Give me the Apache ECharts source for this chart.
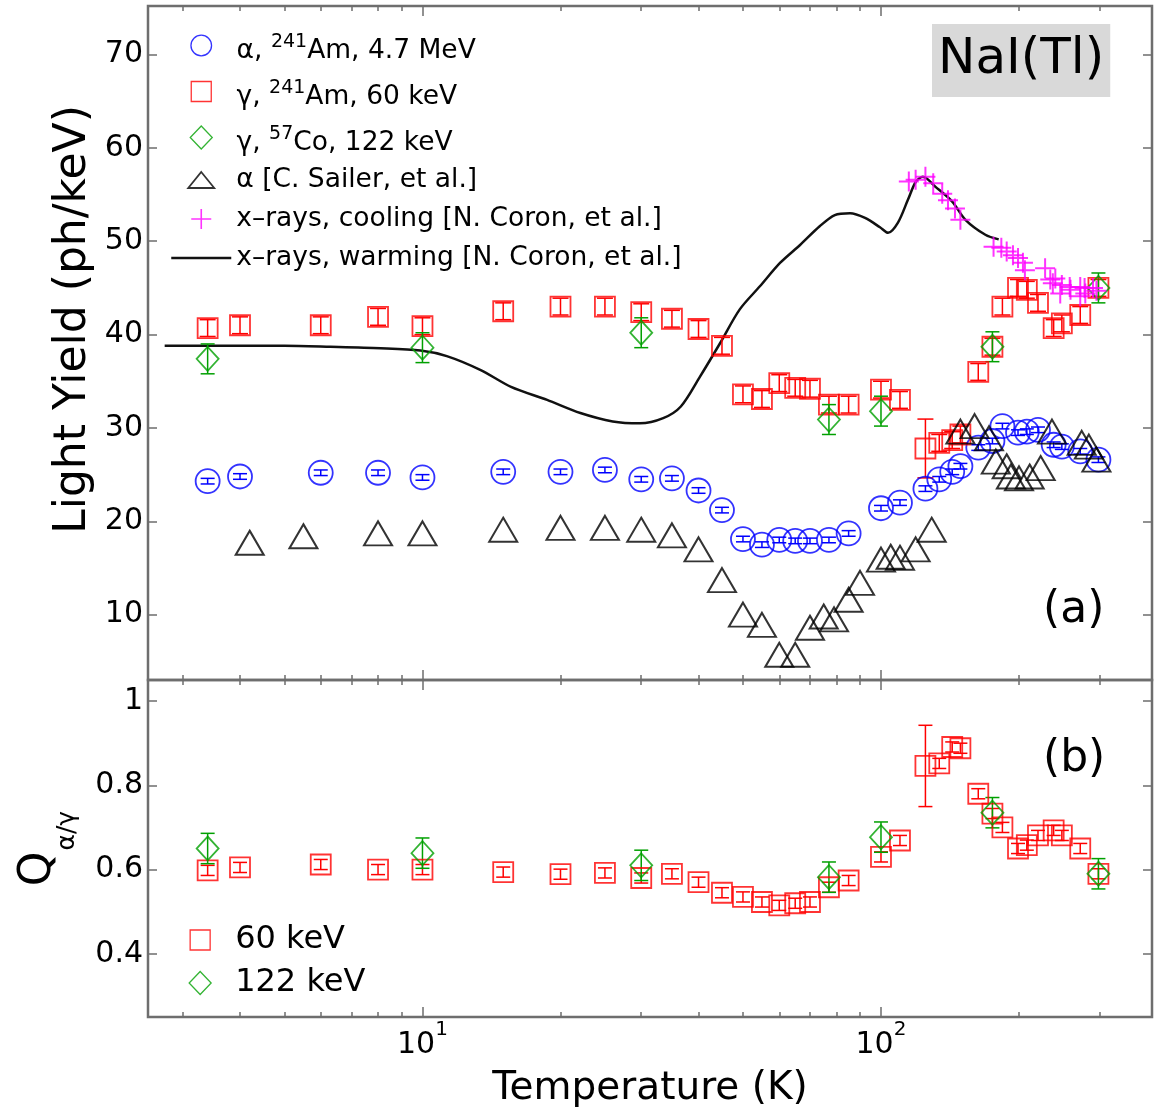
<!DOCTYPE html>
<html>
<head>
<meta charset="utf-8">
<script src="https://cdn.jsdelivr.net/npm/echarts@6/dist/echarts.min.js"></script>
<style>
  html, body { margin: 0; padding: 0; background: #ffffff; }
  #chart { width: 1160px; height: 1117px; }
</style>
</head>
<body>
<div id="chart"></div>
<script>
// ---- measured data -------------------------------------------------------
// Temperatures (K) of the 241Am alpha / 60 keV gamma runs
const tempAm = [3.4, 4, 6, 8, 10, 15, 20, 25, 30, 35, 40, 45, 50, 55, 60, 65, 70, 77, 85, 100,
                110, 125, 134, 143, 149, 163, 175, 184, 199, 208, 220, 238, 248, 272, 298];
// Light yield (ph/keV), alpha 4.7 MeV
const lyAlphaAm = [24.3, 24.8, 25.2, 25.2, 24.7, 25.3, 25.3, 25.5, 24.5, 24.6, 23.3, 21.2, 18.1, 17.5, 18.0,
                   17.9, 17.9, 18.0, 18.7, 21.4, 22.0, 23.5, 24.5, 25.3, 25.9, 27.9, 28.6, 30.2, 29.5, 29.6,
                   29.8, 28.2, 28.0, 27.5, 26.6];
const errAlphaAm = [0.3, 0.3, 0.3, 0.3, 0.3, 0.3, 0.3, 0.3, 0.3, 0.3, 0.3, 0.3, 0.3, 0.3, 0.3, 0.3, 0.3, 0.3,
                    0.3, 0.3, 0.3, 0.3, 0.3, 0.3, 0.3, 0.3, 0.3, 0.3, 0.3, 0.3, 0.3, 0.3, 0.3, 0.3, 0.3];
// Light yield (ph/keV), gamma 60 keV
const lyGamma60 = [40.7, 41.0, 41.0, 41.9, 40.9, 42.5, 43.0, 43.0, 42.4, 41.7, 40.6, 38.8, 33.6, 33.1, 34.8,
                   34.3, 34.2, 32.5, 32.5, 34.1, 33.0, 27.8, 28.4, 28.7, 29.3, 36.0, 38.7, 43.0, 45.0, 44.8,
                   43.4, 40.7, 41.2, 42.1, 45.0];
const errGamma60 = [0.9, 0.9, 0.9, 0.9, 0.9, 0.9, 0.9, 0.9, 0.9, 0.9, 0.9, 0.9, 0.9, 0.9, 0.9, 0.9, 0.9, 0.9,
                    0.9, 0.9, 0.9, 3.15, 0.9, 0.9, 0.9, 0.9, 0.9, 0.9, 0.9, 0.9, 0.9, 0.9, 0.9, 0.9, 0.9];
// Quenching factor alpha / 60 keV gamma
const qGamma60 = [0.598, 0.605, 0.612, 0.600, 0.600, 0.594, 0.589, 0.592, 0.580, 0.590, 0.570, 0.545, 0.535,
                  0.523, 0.515, 0.520, 0.523, 0.558, 0.574, 0.630, 0.669, 0.846, 0.852, 0.891, 0.888, 0.780,
                  0.733, 0.700, 0.650, 0.658, 0.681, 0.693, 0.681, 0.650, 0.590];
const errQ60 = [0.012, 0.012, 0.012, 0.012, 0.012, 0.012, 0.012, 0.012, 0.012, 0.012, 0.012, 0.012, 0.012,
                0.012, 0.012, 0.012, 0.012, 0.012, 0.012, 0.012, 0.012, 0.0965, 0.012, 0.012, 0.012, 0.012,
                0.012, 0.012, 0.012, 0.012, 0.012, 0.012, 0.012, 0.012, 0.012];

// 57Co, 122 keV gamma
const temp122 = [3.4, 10, 30, 77, 100, 175, 298];
const ly122 = [37.4, 38.6, 40.2, 30.9, 31.8, 38.7, 45.0];
const err122 = [1.6, 1.6, 1.6, 1.6, 1.6, 1.6, 1.6];
const q122 = [0.650, 0.639, 0.610, 0.582, 0.677, 0.735, 0.590];
const errQ122 = [0.036, 0.036, 0.036, 0.036, 0.036, 0.036, 0.036];

// alpha light yield, C. Sailer et al.
const tempSailer = [4.2, 5.5, 8, 10, 15, 20, 25, 30, 35, 40, 45, 50, 55, 60, 65, 70, 75, 79, 85, 90,
                    100, 105, 110, 119, 129, 149, 160, 172, 178, 188, 192, 200, 211, 223, 236, 274, 284, 295];
const lySailer = [17.7, 18.4, 18.7, 18.7, 19.1, 19.3, 19.3, 19.1, 18.5, 17.0, 13.7, 10.0, 8.9, 5.7, 5.7,
                  8.6, 9.8, 9.5, 11.6, 13.4, 15.9, 16.2, 16.1, 17.0, 19.1, 29.6, 30.2, 28.9, 26.4, 25.9,
                  24.8, 24.6, 24.8, 25.7, 29.6, 28.4, 28.0, 26.6];

// x-ray light yield while cooling, N. Coron et al.
const tempCool = [115, 119, 125, 130, 136, 140, 145, 149, 176, 183, 188, 194, 199, 204, 206, 228, 234, 237,
                  240, 246, 248, 258, 259, 272, 272, 278, 279, 290, 295];
const lyCool = [56.4, 56.6, 56.9, 56.2, 55.1, 54.4, 53.5, 52.3, 49.4, 49.3, 48.9, 48.5, 48.2, 47.7, 46.9,
                47.1, 45.9, 45.5, 46.0, 44.4, 45.3, 45.1, 44.8, 45.1, 44.1, 45.0, 44.4, 45.0, 44.7];

// x-ray light yield while warming, N. Coron et al.
const tempWarm = [2.74, 3.4, 4.2, 5, 6.3, 8.1, 9.9, 11.3, 13.4, 15.6, 18.7, 22.1, 26, 29.8, 33.5, 36.6,
                  40.3, 44.6, 49.2, 54.5, 60.3, 66.6, 73.5, 79.3, 85.6, 92.3, 99.5, 103.6, 108.9, 114.6,
                  119.2, 123.4, 131.7, 143, 152.8, 168.9, 180.6];
const lyWarm = [38.8, 38.8, 38.8, 38.8, 38.7, 38.55, 38.3, 37.7, 36.2, 34.4, 33.0, 31.6, 30.7, 30.5, 31.05,
                32.3, 35.5, 39.1, 42.7, 45.2, 47.7, 49.6, 51.6, 52.8, 53.0, 52.5, 51.5, 50.9, 52.0, 54.5,
                56.4, 56.9, 55.8, 54.25, 52.3, 50.7, 50.2];

// axis ticks
const xMajorTicks = [10, 100];
const xMinorTicks = [3, 4, 5, 6, 7, 8, 9, 20, 30, 40, 50, 60, 70, 80, 90, 200, 300];
const lyTicks = [10, 20, 30, 40, 50, 60, 70];
const qTicks = [0.4, 0.6, 0.8, 1];

// ---- styling ---------------------------------------------------------------
const FONT = 'DejaVu Sans';
const AXIS_GRAY = '#6e6e6e';
const BLUE = '#0000ff', RED = '#ff0000', GREEN = '#00a000', MAGENTA = '#ff00ff', BLACK = '#000000';
const CLEAR = 'rgba(0,0,0,0)';

const N_ALPHA = 'alpha 241Am', N_G60 = 'gamma 241Am', N_G122 = 'gamma 57Co',
      N_SAILER = 'alpha Sailer', N_COOL = 'x-rays cooling', N_WARM = 'x-rays warming';
const legendText = {};
legendText[N_ALPHA] = '{h| }{m|α, }{s|241}{m|Am, 4.7 MeV}';
legendText[N_G60] = '{h| }{m|γ, }{s|241}{m|Am, 60 keV}';
legendText[N_G122] = '{h| }{m|γ, }{s|57}{m|Co, 122 keV}';
legendText[N_SAILER] = '{n|α [C. Sailer, et al.]}{t| }';
legendText[N_COOL] = '{n|x–rays, cooling [N. Coron, et al.]}{t| }';
legendText[N_WARM] = '{n|x–rays, warming [N. Coron, et al.]}{t| }';

// legend glyphs drawn in a fixed 24px frame so every icon keeps its own size
const ICON_CIRCLE = 'path://M0,0M24,24M22.3,12A10.3,10.3,0,1,1,1.7,12A10.3,10.3,0,1,1,22.3,12Z';
const ICON_SQUARE = 'path://M0,0M24,24M2,2L22,2L22,22L2,22Z';
const ICON_DIAMOND = 'path://M0,0M24,24M12,0.5L23,12L12,23.5L1,12Z';
const ICON_TRIANGLE = 'path://M0,0M26,24M13,4L26,20L0,20Z';
const ICON_PLUS = 'path://M0,0M24,24M12,2L12,22M2,12L22,12';
const ICON_LINE = 'path://M0,0M60,24M0,12L60,12';

const pts = (xs, ys, es) => xs.map((x, i) => (es ? [x, ys[i], es[i]] : [x, ys[i]]));

function errorBars(color, capPx, width) {
  return function (params, api) {
    const t = api.value(0), v = api.value(1), e = api.value(2);
    const hi = api.coord([t, v + e]);
    const lo = api.coord([t, v - e]);
    const h = capPx / 2;
    const st = () => ({ stroke: color, lineWidth: width, fill: null });
    return {
      type: 'group',
      children: [
        { type: 'line', shape: { x1: hi[0], y1: hi[1], x2: lo[0], y2: lo[1] }, style: st() },
        { type: 'line', shape: { x1: hi[0] - h, y1: hi[1], x2: hi[0] + h, y2: hi[1] }, style: st() },
        { type: 'line', shape: { x1: lo[0] - h, y1: lo[1], x2: lo[0] + h, y2: lo[1] }, style: st() }
      ]
    };
  };
}

function errSeries(xi, yi, data, color, cap) {
  return {
    type: 'custom', xAxisIndex: xi, yAxisIndex: yi, data: data,
    encode: { x: 0, y: 1 }, renderItem: errorBars(color, cap, 1.5),
    silent: true, clip: false, z: 3
  };
}

function markers(name, xi, yi, data, symbol, size, color, width) {
  return {
    type: 'scatter', name: name, xAxisIndex: xi, yAxisIndex: yi, data: data,
    symbol: symbol, symbolSize: size, silent: true, z: 4,
    itemStyle: { color: CLEAR, borderColor: color, borderWidth: width || 1.8 },
    emphasis: { disabled: true }
  };
}

function logX(grid, position, ticks, tickLen, labels) {
  const ax = {
    type: 'log', logBase: 10, gridIndex: grid, position: position,
    min: 2.52, max: 390,
    axisLine: { show: false }, splitLine: { show: false },
    axisTick: { show: true, inside: true, length: tickLen, customValues: ticks,
                lineStyle: { color: AXIS_GRAY, width: 1.5 } },
    axisLabel: { show: false }
  };
  if (labels) {
    ax.axisLabel = {
      show: true, customValues: xMajorTicks, margin: 3,
      formatter: v => '{b|10}{s|' + Math.round(Math.log10(v)) + '}',
      rich: {
        b: { fontFamily: FONT, fontSize: 30, lineHeight: 30, padding: [10, 0, 0, 0], verticalAlign: 'top', color: '#000' },
        s: { fontFamily: FONT, fontSize: 20, lineHeight: 22, verticalAlign: 'top', color: '#000' }
      }
    };
    ax.name = 'Temperature (K)';
    ax.nameLocation = 'middle';
    ax.nameGap = 52;
    ax.nameMoveOverlap = false;
    ax.nameTextStyle = { fontFamily: FONT, fontSize: 39, lineHeight: 39, color: '#000' };
  }
  return ax;
}

function valY(grid, position, min, max, ticks, labels) {
  return {
    type: 'value', gridIndex: grid, position: position, min: min, max: max,
    axisLine: { show: false }, splitLine: { show: false },
    axisTick: { show: true, inside: true, length: 9, customValues: ticks,
                lineStyle: { color: AXIS_GRAY, width: 1.5 } },
    axisLabel: labels ? { show: true, customValues: ticks, margin: 5, fontFamily: FONT, fontSize: 30, color: '#000' }
                      : { show: false }
  };
}

const yTopLeft = valY(0, 'left', 3, 75.2, lyTicks, true);
yTopLeft.name = 'Light Yield (ph/keV)';
yTopLeft.nameLocation = 'middle';
yTopLeft.nameRotate = 90;
yTopLeft.nameGap = 52;
yTopLeft.nameMoveOverlap = false;
yTopLeft.nameTextStyle = { fontFamily: FONT, fontSize: 44, lineHeight: 44, color: '#000', padding: [0, 0, 0, 47] };

const yBotLeft = valY(1, 'left', 0.25, 1.05, qTicks, true);
yBotLeft.name = '{q|Q}{s|α/γ}';
yBotLeft.nameLocation = 'middle';
yBotLeft.nameRotate = 90;
yBotLeft.nameGap = 68;
yBotLeft.nameMoveOverlap = false;
yBotLeft.nameTextStyle = {
  fontFamily: FONT, color: '#000',
  rich: {
    q: { fontFamily: FONT, fontSize: 44, lineHeight: 44, verticalAlign: 'top', color: '#000' },
    s: { fontFamily: FONT, fontSize: 25, lineHeight: 63, verticalAlign: 'top', padding: [38, 0, 0, 1], color: '#000' }
  }
};

const legendItem = (name, icon, color, width) => ({
  name: name, icon: icon,
  itemStyle: { color: CLEAR, borderColor: color, borderWidth: width || 1.3 }
});

const option = {
  animation: false,
  backgroundColor: '#ffffff',
  textStyle: { fontFamily: FONT },
  title: [
    { text: 'NaI(Tl)', left: 932, top: 24, padding: [6, 6, 7, 6], backgroundColor: '#d9d9d9',
      textStyle: { fontFamily: FONT, fontSize: 50, lineHeight: 60, fontWeight: 'normal', color: '#000' } },
    { text: '(a)', left: 1043, top: 589, padding: 0,
      textStyle: { fontFamily: FONT, fontSize: 44, lineHeight: 44, fontWeight: 'normal', color: '#000' } },
    { text: '(b)', left: 1043, top: 738, padding: 0,
      textStyle: { fontFamily: FONT, fontSize: 44, lineHeight: 44, fontWeight: 'normal', color: '#000' } }
  ],
  grid: [
    { left: 148, top: 6, width: 1004, height: 674, show: true, borderColor: AXIS_GRAY, borderWidth: 2.5,
      backgroundColor: CLEAR, containLabel: false, outerBoundsMode: 'none' },
    { left: 148, top: 680, width: 1004, height: 337, show: true, borderColor: AXIS_GRAY, borderWidth: 2.5,
      backgroundColor: CLEAR, containLabel: false, outerBoundsMode: 'none' }
  ],
  xAxis: [
    logX(0, 'bottom', xMajorTicks, 10, false),
    logX(0, 'bottom', xMinorTicks, 5, false),
    logX(0, 'top', xMajorTicks, 10, false),
    logX(0, 'top', xMinorTicks, 5, false),
    logX(1, 'bottom', xMajorTicks, 10, true),
    logX(1, 'bottom', xMinorTicks, 5, false),
    logX(1, 'top', xMajorTicks, 10, false),
    logX(1, 'top', xMinorTicks, 5, false)
  ],
  yAxis: [
    yTopLeft,
    valY(0, 'right', 3, 75.2, lyTicks, false),
    yBotLeft,
    valY(1, 'right', 0.25, 1.05, qTicks, false)
  ],
  legend: [
    {
      orient: 'vertical', left: 170, top: 26, padding: 0, itemGap: 7,
      itemWidth: 60, itemHeight: 24, selectedMode: false, symbolKeepAspect: true,
      data: [
        legendItem(N_ALPHA, ICON_CIRCLE, BLUE),
        legendItem(N_G60, ICON_SQUARE, RED),
        legendItem(N_G122, ICON_DIAMOND, GREEN),
        legendItem(N_SAILER, ICON_TRIANGLE, BLACK, 1.8),
        legendItem(N_COOL, ICON_PLUS, MAGENTA, 1.6),
        { name: N_WARM, icon: ICON_LINE,
          itemStyle: { color: CLEAR, borderColor: '#111', borderWidth: 2.5 },
          lineStyle: { color: '#111', width: 2.5 } }
      ],
      formatter: name => legendText[name],
      textStyle: {
        fontFamily: FONT, fontSize: 26.5, color: '#000',
        rich: {
          m: { fontFamily: FONT, fontSize: 26.5, lineHeight: 26.5, verticalAlign: 'bottom', color: '#000' },
          s: { fontFamily: FONT, fontSize: 19, lineHeight: 20, verticalAlign: 'top', padding: [7, 0, 0, 0], color: '#000' },
          h: { fontSize: 1, lineHeight: 39 },
          n: { fontFamily: FONT, fontSize: 26.5, lineHeight: 32, color: '#000' },
          t: { fontFamily: FONT, fontSize: 32, lineHeight: 32, color: '#000' }
        }
      }
    },
    {
      orient: 'vertical', left: 187.5, top: 922, padding: 0, itemGap: 7,
      itemWidth: 60, itemHeight: 24, selectedMode: false, symbolKeepAspect: true,
      data: [
        legendItem('60 keV', ICON_SQUARE, RED),
        legendItem('122 keV', ICON_DIAMOND, GREEN)
      ],
      textStyle: { fontFamily: FONT, fontSize: 32, lineHeight: 36, color: '#000' }
    }
  ],
  series: [
    // (a) light yield
    { type: 'line', name: N_WARM, xAxisIndex: 0, yAxisIndex: 0, data: pts(tempWarm, lyWarm),
      symbol: 'none', smooth: 0.3, silent: true, z: 2,
      lineStyle: { color: '#111', width: 2.5 }, itemStyle: { color: '#111' } },
    errSeries(0, 0, pts(tempAm, lyAlphaAm, errAlphaAm), BLUE, 14),
    markers(N_ALPHA, 0, 0, pts(tempAm, lyAlphaAm), 'circle', 24, BLUE),
    errSeries(0, 0, pts(tempAm, lyGamma60, errGamma60), RED, 16),
    markers(N_G60, 0, 0, pts(tempAm, lyGamma60), 'rect', 20, RED),
    errSeries(0, 0, pts(temp122, ly122, err122), GREEN, 14),
    markers(N_G122, 0, 0, pts(temp122, ly122), 'diamond', [22, 24], GREEN),
    markers(N_SAILER, 0, 0, pts(tempSailer, lySailer), 'triangle', [28, 24], BLACK, 2),
    markers(N_COOL, 0, 0, pts(tempCool, lyCool), 'path://M0,10L20,10M10,0L10,20', 20, MAGENTA, 2),
    // (b) quenching factor
    errSeries(4, 2, pts(tempAm, qGamma60, errQ60), RED, 14),
    markers('60 keV', 4, 2, pts(tempAm, qGamma60), 'rect', 20, RED),
    errSeries(4, 2, pts(temp122, q122, errQ122), GREEN, 14),
    markers('122 keV', 4, 2, pts(temp122, q122), 'diamond', [22, 24], GREEN)
  ]
};

const chart = echarts.init(document.getElementById('chart'), null, { renderer: 'canvas' });
chart.setOption(option);
</script>
</body>
</html>
